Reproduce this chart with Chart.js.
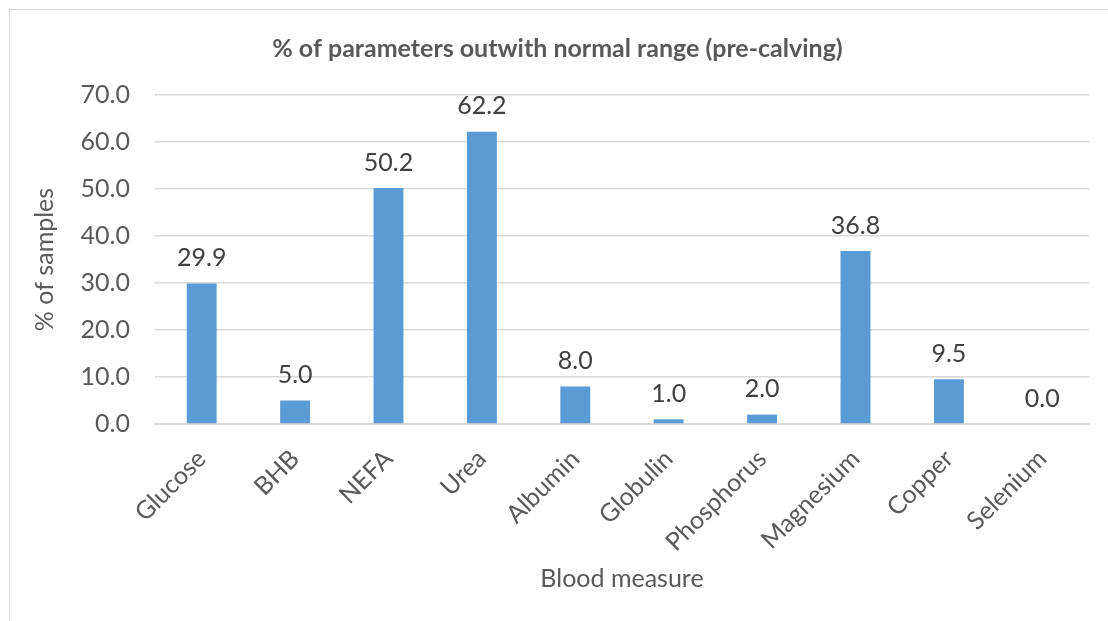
<!DOCTYPE html>
<html>
<head>
<meta charset="utf-8">
<script src="https://cdn.jsdelivr.net/npm/chart.js@4"></script>
<style>
  html, body { margin: 0; padding: 0; background: #fff; }
  #wrap { position: relative; width: 1108px; height: 621px; overflow: hidden; }
  #frame { position: absolute; left: 9px; top: 9px; width: 1120px; height: 640px; border: 1px solid #d9d9d9; }
  #chart { position: absolute; left: 0; top: 0; }
</style>
</head>
<body>
<div id="wrap">
  <div id="frame"></div>
  <canvas id="chart" width="1108" height="621"></canvas>
</div>
<script>
// data
const measures = ['Glucose', 'BHB', 'NEFA', 'Urea', 'Albumin', 'Globulin', 'Phosphorus', 'Magnesium', 'Copper', 'Selenium'];
const pctOutside = [29.9, 5.0, 50.2, 62.2, 8.0, 1.0, 2.0, 36.8, 9.5, 0.0];
const yTicks = [0, 10, 20, 30, 40, 50, 60, 70];

const FONT = 'Lato, "Open Sans", sans-serif';
const TXT = '#595959';

// value labels above each bar (no datalabels plugin offline)
const barLabels = {
    id: 'barLabels',
    afterDatasetsDraw(chart) {
        const ctx = chart.ctx;
        const meta = chart.getDatasetMeta(0);
        ctx.save();
        ctx.font = '25px ' + FONT;
        ctx.fillStyle = '#404040';
        ctx.textAlign = 'center';
        ctx.textBaseline = 'bottom';
        meta.data.forEach((bar, i) => {
            ctx.fillText(pctOutside[i].toFixed(1), bar.x, bar.y - 13);
        });
        ctx.restore();
    }
};

new Chart(document.getElementById('chart'), {
    type: 'bar',
    data: {
        labels: measures,
        datasets: [{
            data: pctOutside,
            backgroundColor: '#5b9bd5',
            categoryPercentage: 1,
            barPercentage: 0.32
        }]
    },
    options: {
        responsive: false,
        animation: false,
        layout: { padding: { left: 26, right: 19, top: 34, bottom: 23 } },
        plugins: {
            legend: { display: false },
            tooltip: { enabled: false },
            title: {
                display: true,
                text: '% of parameters outwith normal range (pre-calving)',
                color: TXT,
                font: { family: FONT, size: 25, weight: 'bold' },
                padding: { top: 0, bottom: 31 }
            }
        },
        scales: {
            x: {
                grid: { display: false, drawTicks: false },
                border: { color: '#d9d9d9', width: 2 },
                ticks: {
                    color: TXT,
                    font: { family: FONT, size: 25 },
                    maxRotation: 45,
                    minRotation: 45,
                    padding: 20
                },
                title: {
                    display: true,
                    text: 'Blood measure',
                    color: TXT,
                    font: { family: FONT, size: 25 }
                },
                afterFit(scale) { scale.height = 174; }
            },
            y: {
                min: 0,
                max: 70,
                afterBuildTicks(scale) { scale.ticks = yTicks.map(v => ({ value: v })); },
                grid: { color: '#d9d9d9', lineWidth: 1.5, drawTicks: false },
                border: { display: false },
                ticks: {
                    color: TXT,
                    font: { family: FONT, size: 25 },
                    padding: 25,
                    callback: v => v.toFixed(1)
                },
                title: {
                    display: true,
                    text: '% of samples',
                    color: TXT,
                    font: { family: FONT, size: 25 }
                },
                afterFit(scale) { scale.width = 129; }
            }
        }
    },
    plugins: [barLabels]
});
</script>
</body>
</html>
